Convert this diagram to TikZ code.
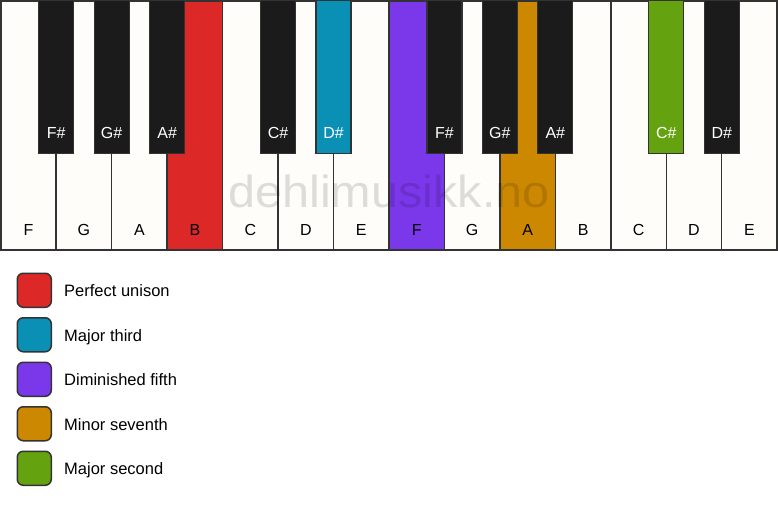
\documentclass[tikz,border=0pt]{standalone}
\usepackage{fontspec}
\setmainfont{Liberation Sans}
\usetikzlibrary{calc}
\definecolor{keywhite}{HTML}{FFFDF9}
\definecolor{keyblack}{HTML}{1B1B1B}
\definecolor{keyline}{HTML}{333333}
\definecolor{cred}{HTML}{DD2828}
\definecolor{cblue}{HTML}{0A8FB5}
\definecolor{cpurple}{HTML}{7B38EA}
\definecolor{corange}{HTML}{CC8800}
\definecolor{cgreen}{HTML}{64A30F}
\tikzset{
  whitekey/.style={draw=keyline, line width=1.5pt, fill=keywhite, minimum width=55.46pt, minimum height=249pt, inner sep=0pt, outer sep=0pt, anchor=north west},
  blackkey/.style={draw=keyline, line width=1.2pt, fill=keyblack, minimum width=35pt, minimum height=152.5pt, inner sep=0pt, outer sep=0pt, anchor=north},
  wlabel/.style={font=\fontsize{16}{16}\selectfont, text=black, anchor=base},
  blabel/.style={font=\fontsize{16}{16}\selectfont, text=white, anchor=base},
  legbox/.style={draw=keyline, line width=1.5pt, rounded corners=6pt, minimum width=34pt, minimum height=34pt, inner sep=0pt, anchor=north west},
  legtext/.style={font=\fontsize{16.5}{16.5}\selectfont, anchor=base west, inner sep=0pt},
  watermark/.style={font=\fontsize{45}{45}\selectfont, text=black, text opacity=0.13, inner sep=0pt, xscale=1.08}
}
\begin{document}
\begin{tikzpicture}[x=1pt,y=-1pt]
\useasboundingbox[fill=white] (0,0) rectangle (778,506);
% white keys
\foreach \i/\n/\c in {0/F/keywhite,1/G/keywhite,2/A/keywhite,3/B/cred,4/C/keywhite,5/D/keywhite,6/E/keywhite,7/F/cpurple,8/G/keywhite,9/A/corange,10/B/keywhite,11/C/keywhite,12/D/keywhite,13/E/keywhite}{
  \node[whitekey, fill=\c] (w\i) at ({0.75+\i*55.46},0.75) {};
  \node[wlabel] (wl\i) at ($(w\i.south)+(0,-14.5)$) {\n};
}
% watermark
\node[watermark] (wm) at (389,191) {dehlimusikk.no};
% black keys
\foreach \i/\n/\c in {0/F\#/keyblack,1/G\#/keyblack,2/A\#/keyblack,4/C\#/keyblack,5/D\#/cblue,7/F\#/keyblack,8/G\#/keyblack,9/A\#/keyblack,11/C\#/cgreen,12/D\#/keyblack}{
  \node[blackkey, fill=\c] (b\i) at (w\i.north east) {};
  \node[blabel] (bl\i) at ($(b\i.south)+(0,-14.5)$) {\n};
}
% legend
\foreach \k/\c/\t in {0/cred/Perfect unison,1/cblue/Major third,2/cpurple/Diminished fifth,3/corange/Minor seventh,4/cgreen/Major second}{
  \node[legbox, fill=\c] (lb\k) at (16.5,{272.5+\k*44.5}) {};
  \node[legtext] (lt\k) at ($(lb\k.east)+(12,6.5)$) {\t};
}
\end{tikzpicture}
\end{document}
